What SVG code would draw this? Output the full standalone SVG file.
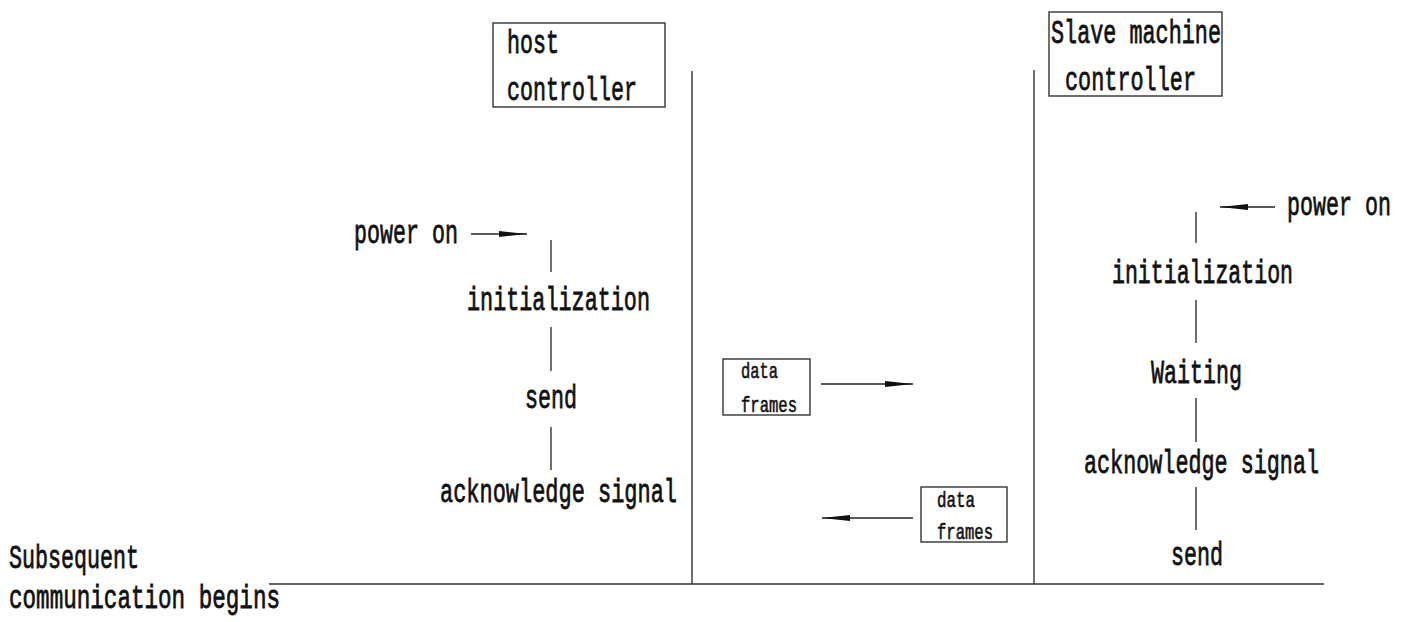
<svg xmlns="http://www.w3.org/2000/svg" width="1410" height="622" viewBox="0 0 1410 622">
  <style>
    .lbl { font-family: "Liberation Mono", "DejaVu Sans Mono", monospace; font-size: 34px; fill: #111; stroke: #111; stroke-width: 0.8; }
    .sm { font-family: "Liberation Mono", "DejaVu Sans Mono", monospace; font-size: 22px; fill: #111; stroke: #111; stroke-width: 0.6; }
    .box { fill: none; stroke: #333; stroke-width: 1.4; }
    .ln { fill: none; stroke: #333; stroke-width: 1.4; }
    .arr { fill: none; stroke: #222; stroke-width: 1.4; marker-end: url(#head); }
  </style>
  <defs>
    <marker id="head" markerUnits="userSpaceOnUse" markerWidth="30" markerHeight="8" refX="28" refY="4" orient="auto">
      <path d="M0,1 L28,4 L0,7 Z" fill="#111"/>
    </marker>
  </defs>
  <rect width="1410" height="622" fill="#fff"/>

  <!-- connectors: lifelines, flow ticks and arrows -->
  <g id="connectors">
    <line class="ln" x1="692" y1="71" x2="692" y2="584"/>
    <line class="ln" x1="1034" y1="70" x2="1034" y2="584"/>
    <line class="ln" x1="269" y1="584" x2="1324" y2="584"/>

    <line class="ln" x1="551" y1="240" x2="551" y2="272"/>
    <line class="ln" x1="551" y1="327" x2="551" y2="371"/>
    <line class="ln" x1="551" y1="427" x2="551" y2="470"/>

    <line class="ln" x1="1196" y1="212" x2="1196" y2="243"/>
    <line class="ln" x1="1196" y1="300" x2="1196" y2="343"/>
    <line class="ln" x1="1196" y1="398" x2="1196" y2="442"/>
    <line class="ln" x1="1196" y1="487" x2="1196" y2="530"/>

    <line class="arr" x1="471" y1="234" x2="527" y2="234"/>
    <line class="arr" x1="1275" y1="207" x2="1220" y2="207"/>
    <line class="arr" x1="821" y1="384" x2="913" y2="384"/>
    <line class="arr" x1="913" y1="518" x2="822" y2="518"/>
  </g>

  <!-- host side -->
  <g id="host-controller">
    <rect class="box" x="493" y="23" width="172" height="84"/>
    <text class="lbl" x="507" y="53" textLength="52" lengthAdjust="spacingAndGlyphs">host</text>
    <text class="lbl" x="507" y="100" textLength="130" lengthAdjust="spacingAndGlyphs">controller</text>
  </g>
  <g id="host-power-on"><text class="lbl" x="354" y="243" textLength="104" lengthAdjust="spacingAndGlyphs">power on</text></g>
  <g id="host-initialization"><text class="lbl" x="467" y="310" textLength="183" lengthAdjust="spacingAndGlyphs">initialization</text></g>
  <g id="host-send"><text class="lbl" x="525" y="408" textLength="52" lengthAdjust="spacingAndGlyphs">send</text></g>
  <g id="host-ack"><text class="lbl" x="440" y="502" textLength="237" lengthAdjust="spacingAndGlyphs">acknowledge signal</text></g>

  <!-- slave side -->
  <g id="slave-controller">
    <rect class="box" x="1049" y="12" width="173" height="84"/>
    <text class="lbl" x="1051" y="43" textLength="170" lengthAdjust="spacingAndGlyphs">Slave machine</text>
    <text class="lbl" x="1065" y="90" textLength="131" lengthAdjust="spacingAndGlyphs">controller</text>
  </g>
  <g id="slave-power-on"><text class="lbl" x="1287" y="215" textLength="104" lengthAdjust="spacingAndGlyphs">power on</text></g>
  <g id="slave-initialization"><text class="lbl" x="1112" y="283" textLength="181" lengthAdjust="spacingAndGlyphs">initialization</text></g>
  <g id="slave-waiting"><text class="lbl" x="1151" y="383" textLength="91" lengthAdjust="spacingAndGlyphs">Waiting</text></g>
  <g id="slave-ack"><text class="lbl" x="1084" y="473" textLength="235" lengthAdjust="spacingAndGlyphs">acknowledge signal</text></g>
  <g id="slave-send"><text class="lbl" x="1171" y="565" textLength="52" lengthAdjust="spacingAndGlyphs">send</text></g>

  <!-- frames exchanged on the bus -->
  <g id="frames-to-slave">
    <rect class="box" x="723" y="359" width="87" height="56"/>
    <text class="sm" x="741" y="378" textLength="37" lengthAdjust="spacingAndGlyphs">data</text>
    <text class="sm" x="741" y="412" textLength="56" lengthAdjust="spacingAndGlyphs">frames</text>
  </g>
  <g id="frames-to-host">
    <rect class="box" x="921" y="487" width="86" height="55"/>
    <text class="sm" x="937" y="507" textLength="38" lengthAdjust="spacingAndGlyphs">data</text>
    <text class="sm" x="937" y="539" textLength="56" lengthAdjust="spacingAndGlyphs">frames</text>
  </g>

  <!-- caption -->
  <g id="caption">
    <text class="lbl" x="9" y="568" textLength="130" lengthAdjust="spacingAndGlyphs">Subsequent</text>
    <text class="lbl" x="9" y="608" textLength="271" lengthAdjust="spacingAndGlyphs">communication begins</text>
  </g>
</svg>
